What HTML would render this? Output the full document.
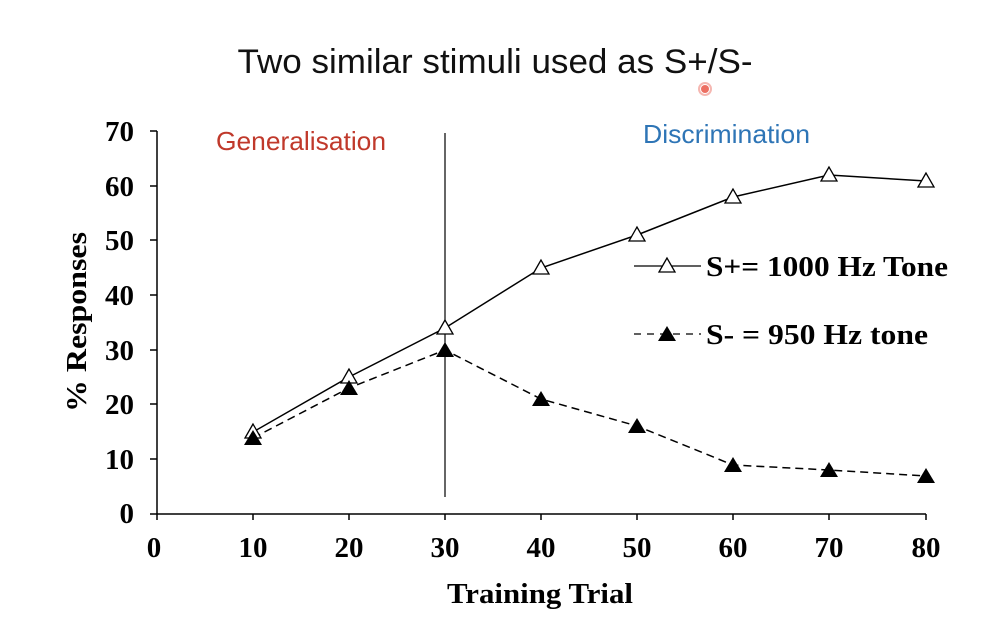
<!DOCTYPE html>
<html><head><meta charset="utf-8"><style>body{margin:0;background:#fff}</style></head><body>
<svg width="990" height="628" xmlns="http://www.w3.org/2000/svg">
<rect width="990" height="628" fill="#fff"/>
<text x="495" y="73" text-anchor="middle" font-family="Liberation Sans, sans-serif" font-size="34" fill="#111" textLength="515" lengthAdjust="spacingAndGlyphs">Two similar stimuli used as S+/S-</text>
<circle cx="705" cy="89" r="4" fill="#e74c3c" opacity="0.8"/><circle cx="705" cy="89" r="6" fill="none" stroke="#f5b7b1" stroke-width="2"/>
<text x="216" y="150" font-family="Liberation Sans, sans-serif" font-size="26" fill="#c0392b" textLength="170" lengthAdjust="spacingAndGlyphs">Generalisation</text>
<text x="643" y="143" font-family="Liberation Sans, sans-serif" font-size="26" fill="#2e75b6" textLength="167" lengthAdjust="spacingAndGlyphs">Discrimination</text>
<g stroke="#000" stroke-width="1.5" fill="none">
<line x1="157" y1="131" x2="157" y2="514"/>
<line x1="157" y1="514" x2="926" y2="514"/>
<line x1="445" y1="133" x2="445" y2="497" stroke-width="1.2"/>
</g>
<g stroke="#000" stroke-width="1.5">
<line x1="150" y1="131" x2="157" y2="131"/><line x1="150" y1="186" x2="157" y2="186"/><line x1="150" y1="240" x2="157" y2="240"/><line x1="150" y1="295" x2="157" y2="295"/><line x1="150" y1="350" x2="157" y2="350"/><line x1="150" y1="404" x2="157" y2="404"/><line x1="150" y1="459" x2="157" y2="459"/><line x1="150" y1="514" x2="157" y2="514"/>
<line x1="157" y1="514" x2="157" y2="520"/><line x1="253" y1="514" x2="253" y2="520"/><line x1="349" y1="514" x2="349" y2="520"/><line x1="445" y1="514" x2="445" y2="520"/><line x1="541" y1="514" x2="541" y2="520"/><line x1="637" y1="514" x2="637" y2="520"/><line x1="733" y1="514" x2="733" y2="520"/><line x1="829" y1="514" x2="829" y2="520"/><line x1="926" y1="514" x2="926" y2="520"/>
</g>
<g font-family="Liberation Serif, serif" font-weight="bold" font-size="29" fill="#000" text-anchor="end">
<text x="134" y="141">70</text><text x="134" y="196">60</text><text x="134" y="250">50</text><text x="134" y="305">40</text><text x="134" y="360">30</text><text x="134" y="414">20</text><text x="134" y="469">10</text><text x="134" y="523">0</text>
</g>
<g font-family="Liberation Serif, serif" font-weight="bold" font-size="29" fill="#000" text-anchor="middle">
<text x="154" y="557">0</text><text x="253" y="557">10</text><text x="349" y="557">20</text><text x="445" y="557">30</text><text x="541" y="557">40</text><text x="637" y="557">50</text><text x="733" y="557">60</text><text x="829" y="557">70</text><text x="926" y="557">80</text>
<text x="540" y="603" textLength="186" lengthAdjust="spacingAndGlyphs">Training Trial</text>
<text transform="translate(86,322) rotate(-90)" textLength="180" lengthAdjust="spacingAndGlyphs">% Responses</text>
</g>
<polyline fill="none" stroke="#000" stroke-width="1.5" points="253,432 349,377 445,328 541,268 637,235 733,197 829,175 926,181"/>
<polyline fill="none" stroke="#000" stroke-width="1.5" stroke-dasharray="8,5" points="253,438 349,388 445,350 541,399 637,426 733,465 829,470 926,476"/>
<g fill="#fff" stroke="#000" stroke-width="1.3">
<path d="M253,424 l-8,14 h16z"/><path d="M349,369 l-8,14 h16z"/><path d="M445,320 l-8,14 h16z"/><path d="M541,260 l-8,14 h16z"/><path d="M637,227 l-8,14 h16z"/><path d="M733,189 l-8,14 h16z"/><path d="M829,167 l-8,14 h16z"/><path d="M926,173 l-8,14 h16z"/>
</g>
<g fill="#000">
<path d="M253,430 l-9,15 h18z"/><path d="M349,380 l-9,15 h18z"/><path d="M445,342 l-9,15 h18z"/><path d="M541,391 l-9,15 h18z"/><path d="M637,418 l-9,15 h18z"/><path d="M733,457 l-9,15 h18z"/><path d="M829,462 l-9,15 h18z"/><path d="M926,468 l-9,15 h18z"/>
</g>
<line x1="634" y1="266" x2="701" y2="266" stroke="#000" stroke-width="1.3"/>
<path d="M667,258 l-8,14 h16z" fill="#fff" stroke="#000" stroke-width="1.3"/>
<line x1="634" y1="334" x2="701" y2="334" stroke="#000" stroke-width="1.3" stroke-dasharray="7,6"/>
<path d="M667,326 l-9,15 h18z" fill="#000"/>
<g font-family="Liberation Serif, serif" font-weight="bold" font-size="29" fill="#000">
<text x="706" y="276" textLength="242" lengthAdjust="spacingAndGlyphs">S+= 1000 Hz Tone</text>
<text x="706" y="344" textLength="222" lengthAdjust="spacingAndGlyphs">S- = 950 Hz tone</text>
</g>
</svg>
</body></html>
